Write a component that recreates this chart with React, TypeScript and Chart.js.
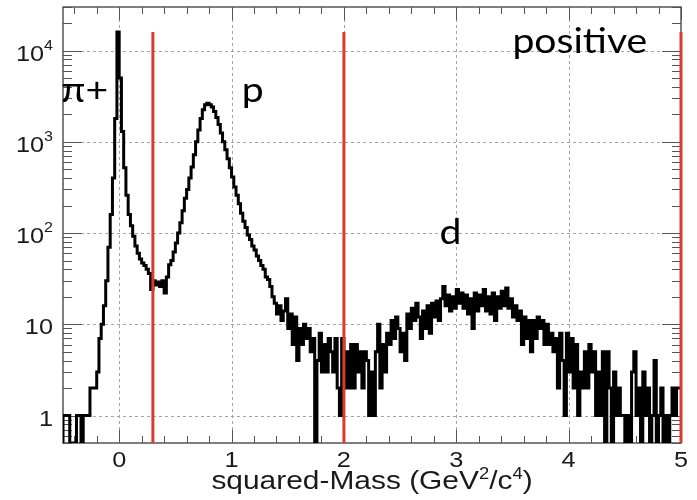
import React, { useEffect, useRef } from "react";
import { Chart, registerables } from "chart.js";

Chart.register(...registerables);

const X_MIN = -0.5;
const X_MAX = 5;
const Y_MIN = 0.5;
const Y_MAX = 30000;
const BIN_WIDTH = 0.02;

// counts per 0.02-wide bin, starting at squared-mass = -0.5
const counts: number[] = [
  0, 1, 1, 1, 0, 0, 0, 1, 1, 0,
  1, 1, 1, 2, 2, 2, 3, 7, 10, 16,
  30, 70, 160, 400, 1800, 16000, 5000, 1300, 520, 260,
  160, 120, 92, 72, 60, 52, 47, 44, 40, 36,
  24, 30, 27, 29, 26, 30, 22, 33, 45, 50,
  62, 78, 100, 130, 175, 240, 300, 400, 530, 720,
  1000, 1350, 1800, 2250, 2550, 2650, 2550, 2400, 2150, 1850,
  1550, 1250, 1000, 820, 650, 520, 410, 320, 260, 210,
  165, 135, 115, 95, 85, 72, 65, 56, 50, 44,
  40, 33, 31, 26, 20, 17, 13, 16, 11, 14,
  19, 9, 13, 6, 12, 4, 9, 6, 10, 7,
  9, 5, 7, 0, 4, 8, 3, 6, 3, 7,
  5, 3, 7, 2, 1, 7, 2, 5, 2, 6,
  2, 6, 3, 5, 2, 5, 4, 1, 3, 1,
  5, 10, 2, 6, 3, 8, 6, 11, 7, 12,
  9, 5, 8, 4, 13, 9, 15, 11, 17, 12,
  7, 14, 9, 16, 8, 17, 12, 18, 11, 19,
  26, 16, 21, 14, 20, 15, 24, 17, 22, 15,
  21, 13, 19, 9, 22, 14, 21, 16, 24, 14,
  20, 13, 22, 11, 20, 15, 23, 16, 25, 15,
  19, 12, 16, 11, 14, 6, 12, 7, 11, 5,
  11, 7, 12, 9, 11, 6, 10, 6, 8, 5,
  7, 2, 8, 4, 1, 8, 3, 7, 2, 6,
  1, 3, 2, 5, 2, 6, 3, 5, 1, 3,
  1, 5, 0, 5, 2, 0, 3, 1, 2, 1,
  1, 0, 1, 0, 3, 5, 1, 2, 0, 3,
  1, 2, 0, 1, 4, 0, 1, 2, 0, 1,
  0, 1, 2, 1, 2,
];

const cutPositions = [0.3, 2, 5];
const cutHeight = 16000;

const xTickValues = [0, 1, 2, 3, 4, 5];
const xTickLabels = ["0", "1", "2", "3", "4", "5"];
const yTickValues = [1, 10, 100, 1000, 10000];
const yTickBases = ["1", "10", "10", "10", "10"];
const yTickExponents = ["", "", "2", "3", "4"];

const titleTexts = ["squared-Mass (GeV", "2", "/c", "4", ")"];
const titleIsSup = [false, true, false, true, false];

const peakLabels = ["π+", "p", "d", "positive"];
const peakLabelX = [-0.515, 1.09, 2.85, 3.5];
const peakLabelY = [2700, 2700, 75, 9500];

const SANS = '"Liberation Sans", Arial, Helvetica, sans-serif';
const LABEL_FONT = 'Lato, "Liberation Serif", serif';
const STRETCH = 1.15;

function textW(ctx: CanvasRenderingContext2D, t: string) {
  return ctx.measureText(t).width * STRETCH;
}

function drawStretched(ctx: CanvasRenderingContext2D, t: string, x: number, y: number) {
  ctx.save();
  ctx.translate(x, y);
  ctx.scale(STRETCH, 1);
  ctx.textAlign = "left";
  ctx.textBaseline = "alphabetic";
  ctx.fillText(t, 0, 0);
  ctx.restore();
}

const decorPlugin = {
  id: "decor",
  beforeDatasetsDraw(chart: any) {
    const { ctx, chartArea: a, scales } = chart;
    const xs = scales.x;
    const ys = scales.y;
    ctx.save();
    // dotted grid
    ctx.strokeStyle = "#a4a4a4";
    ctx.lineWidth = 1;
    ctx.setLineDash([3, 3]);
    ctx.beginPath();
    for (const v of xTickValues) {
      if (v <= X_MIN || v >= X_MAX) continue;
      const px = Math.round(xs.getPixelForValue(v)) + 0.5;
      ctx.moveTo(px, a.top);
      ctx.lineTo(px, a.bottom);
    }
    for (const v of yTickValues) {
      const py = Math.round(ys.getPixelForValue(v)) + 0.5;
      ctx.moveTo(a.left, py);
      ctx.lineTo(a.right, py);
    }
    ctx.stroke();
    ctx.setLineDash([]);

    // tick marks
    ctx.strokeStyle = "#555";
    ctx.lineWidth = 1;
    ctx.beginPath();
    for (let k = -2; k <= 25; k++) {
      const v = k * 0.2;
      if (v < X_MIN - 1e-9 || v > X_MAX + 1e-9) continue;
      const len = k % 5 === 0 ? 13 : 7;
      const px = Math.round(xs.getPixelForValue(v)) + 0.5;
      ctx.moveTo(px, a.bottom);
      ctx.lineTo(px, a.bottom - len);
      ctx.moveTo(px, a.top);
      ctx.lineTo(px, a.top + len);
    }
    for (let n = -1; n <= 4; n++) {
      for (let m = 1; m <= 9; m++) {
        const v = m * Math.pow(10, n);
        if (v < Y_MIN || v > Y_MAX) continue;
        const len = m === 1 ? 19 : 9;
        const py = Math.round(ys.getPixelForValue(v)) + 0.5;
        ctx.moveTo(a.left, py);
        ctx.lineTo(a.left + len, py);
        ctx.moveTo(a.right, py);
        ctx.lineTo(a.right - len, py);
      }
    }
    ctx.stroke();

    // frame
    ctx.strokeStyle = "#555";
    ctx.lineWidth = 1.5;
    ctx.strokeRect(a.left, a.top, a.right - a.left, a.bottom - a.top);
    ctx.restore();
  },
  afterDatasetsDraw(chart: any) {
    const { ctx, chartArea: a, scales } = chart;
    const xs = scales.x;
    const ys = scales.y;
    ctx.save();
    ctx.fillStyle = "#1a1a1a";

    // y tick labels
    const rightEdge = a.left - 10;
    yTickValues.forEach((v, i) => {
      const py = ys.getPixelForValue(v);
      const base = yTickBases[i];
      const exp = yTickExponents[i];
      ctx.font = `22px ${SANS}`;
      const bw = textW(ctx, base);
      ctx.font = `14px ${SANS}`;
      const ew = exp ? textW(ctx, exp) : 0;
      const start = rightEdge - bw - ew;
      ctx.font = `22px ${SANS}`;
      drawStretched(ctx, base, start, py + 10);
      if (exp) {
        ctx.font = `14px ${SANS}`;
        drawStretched(ctx, exp, start + bw, py - 1);
      }
    });

    // x tick labels
    ctx.font = `22px ${SANS}`;
    xTickValues.forEach((v, i) => {
      const w = textW(ctx, xTickLabels[i]);
      drawStretched(ctx, xTickLabels[i], xs.getPixelForValue(v) - w / 2, a.bottom + 24);
    });

    // axis title
    const mainSize = 26;
    const supSize = 16;
    let total = 0;
    const widths = titleTexts.map((t, i) => {
      ctx.font = `${titleIsSup[i] ? supSize : mainSize}px ${SANS}`;
      const w = textW(ctx, t);
      total += w;
      return w;
    });
    let tx = (a.left + a.right) / 2 - total / 2;
    const baseY = a.bottom + 46;
    titleTexts.forEach((t, i) => {
      ctx.font = `${titleIsSup[i] ? supSize : mainSize}px ${SANS}`;
      drawStretched(ctx, t, tx, titleIsSup[i] ? baseY - 10 : baseY);
      tx += widths[i];
    });

    // peak labels
    ctx.fillStyle = "#000";
    ctx.font = `34px ${LABEL_FONT}`;
    peakLabels.forEach((t, i) => {
      drawStretched(ctx, t, xs.getPixelForValue(peakLabelX[i]), ys.getPixelForValue(peakLabelY[i]));
    });
    ctx.restore();
  },
};

export default function App() {
  const ref = useRef<HTMLCanvasElement | null>(null);
  useEffect(() => {
    if (!ref.current) return;
    const histPoints = counts.map((c, i) => ({ x: X_MIN + i * BIN_WIDTH, y: Math.max(c, Y_MIN) }));
    histPoints.push({ x: X_MAX, y: Math.max(counts[counts.length - 1], Y_MIN) });

    const cutSets = cutPositions.map((p) => ({
      type: "line" as const,
      data: [
        { x: p, y: Y_MIN },
        { x: p, y: cutHeight },
      ],
      borderColor: "#db3a2f",
      borderWidth: 3,
      pointRadius: 0,
      clip: false as any,
      order: 0,
    }));

    const chart = new Chart(ref.current, {
      type: "line",
      data: {
        datasets: [
          ...cutSets,
          {
            data: histPoints,
            borderColor: "#000",
            borderWidth: 3,
            stepped: "after",
            pointRadius: 0,
            fill: false,
            borderJoinStyle: "miter",
            order: 1,
          } as any,
        ],
      },
      options: {
        animation: false,
        responsive: false,
        devicePixelRatio: 1,
        layout: { padding: { left: 0, top: 7, right: 16, bottom: 0 } },
        plugins: { legend: { display: false }, tooltip: { enabled: false }, title: { display: false } },
        scales: {
          x: {
            type: "linear",
            min: X_MIN,
            max: X_MAX,
            grid: { display: false },
            border: { display: false },
            ticks: { display: false },
            afterFit: (s: any) => {
              s.height = 57;
            },
          },
          y: {
            type: "logarithmic",
            min: Y_MIN,
            max: Y_MAX,
            grid: { display: false },
            border: { display: false },
            ticks: { display: false },
            afterFit: (s: any) => {
              s.width = 63;
            },
          },
        },
      },
      plugins: [decorPlugin],
    });
    return () => chart.destroy();
  }, []);

  return (
    <div style={{ position: "fixed", left: 0, top: 0, width: 697, height: 500, background: "#fff" }}>
      <canvas ref={ref} width={697} height={500} />
    </div>
  );
}
